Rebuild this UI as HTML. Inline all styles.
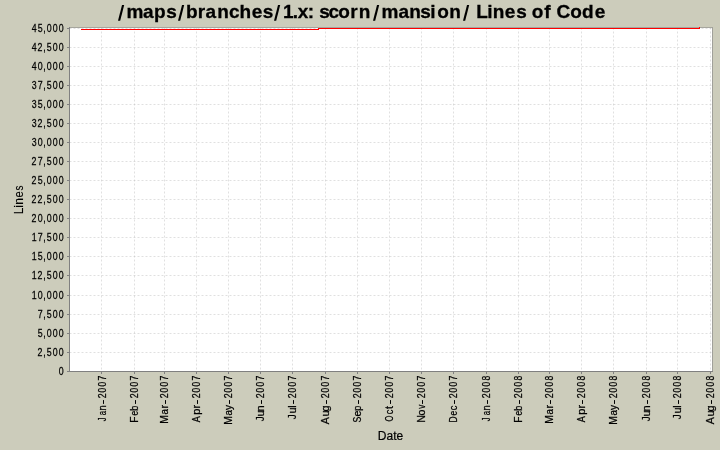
<!DOCTYPE html>
<html><head><meta charset="utf-8"><title>Lines of Code</title>
<style>
html,body{margin:0;padding:0;background:#ccccbb;}
body{width:720px;height:450px;overflow:hidden;}
svg{display:block;font-family:"Liberation Sans",sans-serif;will-change:transform;}
</style></head><body>
<svg width="720" height="450" viewBox="0 0 720 450">
<rect x="0" y="0" width="720" height="450" fill="#ccccbb"/>
<rect x="70" y="28" width="642" height="343" fill="#ffffff"/>
<g stroke="#c0c0c0" stroke-width="0.5" stroke-dasharray="2 2" fill="none"><line x1="69.5" y1="28.5" x2="712.5" y2="28.5"/><line x1="69.5" y1="47.5" x2="712.5" y2="47.5"/><line x1="69.5" y1="66.5" x2="712.5" y2="66.5"/><line x1="69.5" y1="85.5" x2="712.5" y2="85.5"/><line x1="69.5" y1="104.5" x2="712.5" y2="104.5"/><line x1="69.5" y1="123.5" x2="712.5" y2="123.5"/><line x1="69.5" y1="142.5" x2="712.5" y2="142.5"/><line x1="69.5" y1="161.5" x2="712.5" y2="161.5"/><line x1="69.5" y1="180.5" x2="712.5" y2="180.5"/><line x1="69.5" y1="199.5" x2="712.5" y2="199.5"/><line x1="69.5" y1="218.5" x2="712.5" y2="218.5"/><line x1="69.5" y1="237.5" x2="712.5" y2="237.5"/><line x1="69.5" y1="256.5" x2="712.5" y2="256.5"/><line x1="69.5" y1="275.5" x2="712.5" y2="275.5"/><line x1="69.5" y1="295.5" x2="712.5" y2="295.5"/><line x1="69.5" y1="314.5" x2="712.5" y2="314.5"/><line x1="69.5" y1="333.5" x2="712.5" y2="333.5"/><line x1="69.5" y1="352.5" x2="712.5" y2="352.5"/><line x1="69.5" y1="371.5" x2="712.5" y2="371.5"/><line x1="101.5" y1="27.5" x2="101.5" y2="371.5"/><line x1="134.5" y1="27.5" x2="134.5" y2="371.5"/><line x1="164.5" y1="27.5" x2="164.5" y2="371.5"/><line x1="196.5" y1="27.5" x2="196.5" y2="371.5"/><line x1="228.5" y1="27.5" x2="228.5" y2="371.5"/><line x1="260.5" y1="27.5" x2="260.5" y2="371.5"/><line x1="292.5" y1="27.5" x2="292.5" y2="371.5"/><line x1="325.5" y1="27.5" x2="325.5" y2="371.5"/><line x1="357.5" y1="27.5" x2="357.5" y2="371.5"/><line x1="389.5" y1="27.5" x2="389.5" y2="371.5"/><line x1="421.5" y1="27.5" x2="421.5" y2="371.5"/><line x1="453.5" y1="27.5" x2="453.5" y2="371.5"/><line x1="486.5" y1="27.5" x2="486.5" y2="371.5"/><line x1="518.5" y1="27.5" x2="518.5" y2="371.5"/><line x1="549.5" y1="27.5" x2="549.5" y2="371.5"/><line x1="581.5" y1="27.5" x2="581.5" y2="371.5"/><line x1="613.5" y1="27.5" x2="613.5" y2="371.5"/><line x1="646.5" y1="27.5" x2="646.5" y2="371.5"/><line x1="677.5" y1="27.5" x2="677.5" y2="371.5"/><line x1="710.5" y1="27.5" x2="710.5" y2="371.5"/></g>
<rect x="69" y="27" width="644" height="1" fill="#a6a69e"/>
<rect x="712" y="27" width="1" height="345" fill="#a0a09a"/>
<g fill="#ff0000"><rect x="81" y="29" width="238" height="1"/><rect x="318" y="28" width="382" height="1"/><rect x="699" y="27" width="1" height="1"/></g>
<g fill="#808080"><rect x="69" y="27" width="1" height="345"/><rect x="67" y="371" width="646" height="1"/><rect x="67" y="28" width="2" height="1"/><rect x="67" y="47" width="2" height="1"/><rect x="67" y="66" width="2" height="1"/><rect x="67" y="85" width="2" height="1"/><rect x="67" y="104" width="2" height="1"/><rect x="67" y="123" width="2" height="1"/><rect x="67" y="142" width="2" height="1"/><rect x="67" y="161" width="2" height="1"/><rect x="67" y="180" width="2" height="1"/><rect x="67" y="199" width="2" height="1"/><rect x="67" y="218" width="2" height="1"/><rect x="67" y="237" width="2" height="1"/><rect x="67" y="256" width="2" height="1"/><rect x="67" y="275" width="2" height="1"/><rect x="67" y="295" width="2" height="1"/><rect x="67" y="314" width="2" height="1"/><rect x="67" y="333" width="2" height="1"/><rect x="67" y="352" width="2" height="1"/><rect x="67" y="371" width="2" height="1"/><rect x="101" y="372" width="1" height="2"/><rect x="134" y="372" width="1" height="2"/><rect x="164" y="372" width="1" height="2"/><rect x="196" y="372" width="1" height="2"/><rect x="228" y="372" width="1" height="2"/><rect x="260" y="372" width="1" height="2"/><rect x="292" y="372" width="1" height="2"/><rect x="325" y="372" width="1" height="2"/><rect x="357" y="372" width="1" height="2"/><rect x="389" y="372" width="1" height="2"/><rect x="421" y="372" width="1" height="2"/><rect x="453" y="372" width="1" height="2"/><rect x="486" y="372" width="1" height="2"/><rect x="518" y="372" width="1" height="2"/><rect x="549" y="372" width="1" height="2"/><rect x="581" y="372" width="1" height="2"/><rect x="613" y="372" width="1" height="2"/><rect x="646" y="372" width="1" height="2"/><rect x="677" y="372" width="1" height="2"/><rect x="710" y="372" width="1" height="2"/></g>
<g font-size="11" fill="#000" stroke="#000" stroke-width="0.25" transform="scale(0.8,1)"><text x="39.66 47.11 54.08 58.41 65.91 73.41" y="32.0">45,000</text><text x="39.66 47.00 54.08 58.36 65.91 73.41" y="51.0">42,500</text><text x="39.66 47.16 54.08 58.41 65.91 73.41" y="70.0">40,000</text><text x="39.68 47.14 54.08 58.36 65.91 73.41" y="89.0">37,500</text><text x="39.68 47.11 54.08 58.41 65.91 73.41" y="108.0">35,000</text><text x="39.68 47.00 54.08 58.36 65.91 73.41" y="127.0">32,500</text><text x="39.68 47.16 54.08 58.41 65.91 73.41" y="146.0">30,000</text><text x="39.50 47.14 54.08 58.36 65.91 73.41" y="165.0">27,500</text><text x="39.50 47.11 54.08 58.41 65.91 73.41" y="184.0">25,000</text><text x="39.50 47.00 54.08 58.36 65.91 73.41" y="203.0">22,500</text><text x="39.50 47.16 54.08 58.41 65.91 73.41" y="222.0">20,000</text><text x="39.63 47.14 54.08 58.36 65.91 73.41" y="241.0">17,500</text><text x="39.63 47.11 54.08 58.41 65.91 73.41" y="260.0">15,000</text><text x="39.63 47.00 54.08 58.36 65.91 73.41" y="279.0">12,500</text><text x="39.63 47.16 54.08 58.41 65.91 73.41" y="299.0">10,000</text><text x="47.14 54.08 58.36 65.91 73.41" y="318.0">7,500</text><text x="47.11 54.08 58.41 65.91 73.41" y="337.0">5,000</text><text x="47.00 54.08 58.36 65.91 73.41" y="356.0">2,500</text><text x="73.41" y="375.0">0</text></g>
<g font-size="11" fill="#000" stroke="#000" stroke-width="0.25"><text transform="translate(106,0) rotate(-90) scale(0.700,1)" x="-601.71">J</text><text transform="translate(106,0) rotate(-90) scale(0.708,1)" x="-586.70">a</text><text transform="translate(106,0) rotate(-90) scale(0.856,1)" x="-479.70">n</text><text transform="translate(106,0) rotate(-90) scale(0.798,1)" x="-499.17">2</text><text transform="translate(106,0) rotate(-90) scale(0.761,1)" x="-515.74">0</text><text transform="translate(106,0) rotate(-90) scale(0.761,1)" x="-507.86">0</text><text transform="translate(106,0) rotate(-90) scale(0.800,1)" x="-475.61">7</text><text transform="translate(138,0) rotate(-90) scale(0.930,1)" x="-454.68">F</text><text transform="translate(138,0) rotate(-90) scale(0.775,1)" x="-535.99">e</text><text transform="translate(138,0) rotate(-90) scale(0.809,1)" x="-507.75">b</text><text transform="translate(138,0) rotate(-90) scale(0.798,1)" x="-499.17">2</text><text transform="translate(138,0) rotate(-90) scale(0.761,1)" x="-515.74">0</text><text transform="translate(138,0) rotate(-90) scale(0.761,1)" x="-507.86">0</text><text transform="translate(138,0) rotate(-90) scale(0.800,1)" x="-475.61">7</text><text transform="translate(168,0) rotate(-90) scale(0.951,1)" x="-445.56">M</text><text transform="translate(168,0) rotate(-90) scale(0.885,1)" x="-468.32">a</text><text transform="translate(168,0) rotate(-90) scale(1.000,1)" x="-408.61">r</text><text transform="translate(168,0) rotate(-90) scale(0.798,1)" x="-499.17">2</text><text transform="translate(168,0) rotate(-90) scale(0.761,1)" x="-515.74">0</text><text transform="translate(168,0) rotate(-90) scale(0.761,1)" x="-507.86">0</text><text transform="translate(168,0) rotate(-90) scale(0.800,1)" x="-475.61">7</text><text transform="translate(200,0) rotate(-90) scale(0.823,1)" x="-513.03">A</text><text transform="translate(200,0) rotate(-90) scale(1.000,1)" x="-414.68">p</text><text transform="translate(200,0) rotate(-90) scale(1.000,1)" x="-408.61">r</text><text transform="translate(200,0) rotate(-90) scale(0.798,1)" x="-499.17">2</text><text transform="translate(200,0) rotate(-90) scale(0.761,1)" x="-515.74">0</text><text transform="translate(200,0) rotate(-90) scale(0.761,1)" x="-507.86">0</text><text transform="translate(200,0) rotate(-90) scale(0.800,1)" x="-475.61">7</text><text transform="translate(232,0) rotate(-90) scale(0.951,1)" x="-446.61">M</text><text transform="translate(232,0) rotate(-90) scale(0.885,1)" x="-469.45">a</text><text transform="translate(232,0) rotate(-90) scale(0.917,1)" x="-447.06">y</text><text transform="translate(232,0) rotate(-90) scale(0.798,1)" x="-499.17">2</text><text transform="translate(232,0) rotate(-90) scale(0.761,1)" x="-515.74">0</text><text transform="translate(232,0) rotate(-90) scale(0.761,1)" x="-507.86">0</text><text transform="translate(232,0) rotate(-90) scale(0.800,1)" x="-475.61">7</text><text transform="translate(264,0) rotate(-90) scale(0.887,1)" x="-475.03">J</text><text transform="translate(264,0) rotate(-90) scale(1.000,1)" x="-416.55">u</text><text transform="translate(264,0) rotate(-90) scale(1.000,1)" x="-411.57">n</text><text transform="translate(264,0) rotate(-90) scale(0.798,1)" x="-499.17">2</text><text transform="translate(264,0) rotate(-90) scale(0.761,1)" x="-515.74">0</text><text transform="translate(264,0) rotate(-90) scale(0.761,1)" x="-507.86">0</text><text transform="translate(264,0) rotate(-90) scale(0.800,1)" x="-475.61">7</text><text transform="translate(296,0) rotate(-90) scale(0.887,1)" x="-472.77">J</text><text transform="translate(296,0) rotate(-90) scale(1.000,1)" x="-413.55">u</text><text transform="translate(296,0) rotate(-90) scale(1.000,1)" x="-407.72">l</text><text transform="translate(296,0) rotate(-90) scale(0.798,1)" x="-499.17">2</text><text transform="translate(296,0) rotate(-90) scale(0.761,1)" x="-515.74">0</text><text transform="translate(296,0) rotate(-90) scale(0.761,1)" x="-507.86">0</text><text transform="translate(296,0) rotate(-90) scale(0.800,1)" x="-475.61">7</text><text transform="translate(329,0) rotate(-90) scale(0.960,1)" x="-441.83">A</text><text transform="translate(329,0) rotate(-90) scale(1.000,1)" x="-416.55">u</text><text transform="translate(329,0) rotate(-90) scale(1.000,1)" x="-411.44">g</text><text transform="translate(329,0) rotate(-90) scale(0.798,1)" x="-499.17">2</text><text transform="translate(329,0) rotate(-90) scale(0.761,1)" x="-515.74">0</text><text transform="translate(329,0) rotate(-90) scale(0.761,1)" x="-507.86">0</text><text transform="translate(329,0) rotate(-90) scale(0.800,1)" x="-475.61">7</text><text transform="translate(361,0) rotate(-90) scale(0.790,1)" x="-534.96">S</text><text transform="translate(361,0) rotate(-90) scale(0.969,1)" x="-429.91">e</text><text transform="translate(361,0) rotate(-90) scale(0.809,1)" x="-507.75">p</text><text transform="translate(361,0) rotate(-90) scale(0.798,1)" x="-499.17">2</text><text transform="translate(361,0) rotate(-90) scale(0.761,1)" x="-515.74">0</text><text transform="translate(361,0) rotate(-90) scale(0.761,1)" x="-507.86">0</text><text transform="translate(361,0) rotate(-90) scale(0.800,1)" x="-475.61">7</text><text transform="translate(393,0) rotate(-90) scale(0.700,1)" x="-602.13">O</text><text transform="translate(393,0) rotate(-90) scale(0.843,1)" x="-491.33">c</text><text transform="translate(393,0) rotate(-90) scale(1.000,1)" x="-409.07">t</text><text transform="translate(393,0) rotate(-90) scale(0.798,1)" x="-499.17">2</text><text transform="translate(393,0) rotate(-90) scale(0.761,1)" x="-515.74">0</text><text transform="translate(393,0) rotate(-90) scale(0.761,1)" x="-507.86">0</text><text transform="translate(393,0) rotate(-90) scale(0.800,1)" x="-475.61">7</text><text transform="translate(425,0) rotate(-90) scale(0.976,1)" x="-433.07">N</text><text transform="translate(425,0) rotate(-90) scale(0.963,1)" x="-431.55">o</text><text transform="translate(425,0) rotate(-90) scale(0.737,1)" x="-554.72">v</text><text transform="translate(425,0) rotate(-90) scale(0.798,1)" x="-499.17">2</text><text transform="translate(425,0) rotate(-90) scale(0.761,1)" x="-515.74">0</text><text transform="translate(425,0) rotate(-90) scale(0.761,1)" x="-507.86">0</text><text transform="translate(425,0) rotate(-90) scale(0.800,1)" x="-475.61">7</text><text transform="translate(457,0) rotate(-90) scale(0.767,1)" x="-550.78">D</text><text transform="translate(457,0) rotate(-90) scale(0.775,1)" x="-535.99">e</text><text transform="translate(457,0) rotate(-90) scale(0.843,1)" x="-486.59">c</text><text transform="translate(457,0) rotate(-90) scale(0.798,1)" x="-499.17">2</text><text transform="translate(457,0) rotate(-90) scale(0.761,1)" x="-515.74">0</text><text transform="translate(457,0) rotate(-90) scale(0.761,1)" x="-507.86">0</text><text transform="translate(457,0) rotate(-90) scale(0.800,1)" x="-475.61">7</text><text transform="translate(490,0) rotate(-90) scale(0.700,1)" x="-601.71">J</text><text transform="translate(490,0) rotate(-90) scale(0.708,1)" x="-586.70">a</text><text transform="translate(490,0) rotate(-90) scale(0.856,1)" x="-479.70">n</text><text transform="translate(490,0) rotate(-90) scale(0.798,1)" x="-499.17">2</text><text transform="translate(490,0) rotate(-90) scale(0.761,1)" x="-515.74">0</text><text transform="translate(490,0) rotate(-90) scale(0.761,1)" x="-507.86">0</text><text transform="translate(490,0) rotate(-90) scale(0.775,1)" x="-490.83">8</text><text transform="translate(522,0) rotate(-90) scale(0.930,1)" x="-454.68">F</text><text transform="translate(522,0) rotate(-90) scale(0.775,1)" x="-535.99">e</text><text transform="translate(522,0) rotate(-90) scale(0.809,1)" x="-507.75">b</text><text transform="translate(522,0) rotate(-90) scale(0.798,1)" x="-499.17">2</text><text transform="translate(522,0) rotate(-90) scale(0.761,1)" x="-515.74">0</text><text transform="translate(522,0) rotate(-90) scale(0.761,1)" x="-507.86">0</text><text transform="translate(522,0) rotate(-90) scale(0.775,1)" x="-490.83">8</text><text transform="translate(553,0) rotate(-90) scale(0.951,1)" x="-445.56">M</text><text transform="translate(553,0) rotate(-90) scale(0.885,1)" x="-468.32">a</text><text transform="translate(553,0) rotate(-90) scale(1.000,1)" x="-408.61">r</text><text transform="translate(553,0) rotate(-90) scale(0.798,1)" x="-499.17">2</text><text transform="translate(553,0) rotate(-90) scale(0.761,1)" x="-515.74">0</text><text transform="translate(553,0) rotate(-90) scale(0.761,1)" x="-507.86">0</text><text transform="translate(553,0) rotate(-90) scale(0.775,1)" x="-490.83">8</text><text transform="translate(585,0) rotate(-90) scale(0.823,1)" x="-513.03">A</text><text transform="translate(585,0) rotate(-90) scale(1.000,1)" x="-414.68">p</text><text transform="translate(585,0) rotate(-90) scale(1.000,1)" x="-408.61">r</text><text transform="translate(585,0) rotate(-90) scale(0.798,1)" x="-499.17">2</text><text transform="translate(585,0) rotate(-90) scale(0.761,1)" x="-515.74">0</text><text transform="translate(585,0) rotate(-90) scale(0.761,1)" x="-507.86">0</text><text transform="translate(585,0) rotate(-90) scale(0.775,1)" x="-490.83">8</text><text transform="translate(617,0) rotate(-90) scale(0.951,1)" x="-446.61">M</text><text transform="translate(617,0) rotate(-90) scale(0.885,1)" x="-469.45">a</text><text transform="translate(617,0) rotate(-90) scale(0.917,1)" x="-447.06">y</text><text transform="translate(617,0) rotate(-90) scale(0.798,1)" x="-499.17">2</text><text transform="translate(617,0) rotate(-90) scale(0.761,1)" x="-515.74">0</text><text transform="translate(617,0) rotate(-90) scale(0.761,1)" x="-507.86">0</text><text transform="translate(617,0) rotate(-90) scale(0.775,1)" x="-490.83">8</text><text transform="translate(650,0) rotate(-90) scale(0.887,1)" x="-475.03">J</text><text transform="translate(650,0) rotate(-90) scale(1.000,1)" x="-416.55">u</text><text transform="translate(650,0) rotate(-90) scale(1.000,1)" x="-411.57">n</text><text transform="translate(650,0) rotate(-90) scale(0.798,1)" x="-499.17">2</text><text transform="translate(650,0) rotate(-90) scale(0.761,1)" x="-515.74">0</text><text transform="translate(650,0) rotate(-90) scale(0.761,1)" x="-507.86">0</text><text transform="translate(650,0) rotate(-90) scale(0.775,1)" x="-490.83">8</text><text transform="translate(681,0) rotate(-90) scale(0.887,1)" x="-472.77">J</text><text transform="translate(681,0) rotate(-90) scale(1.000,1)" x="-413.55">u</text><text transform="translate(681,0) rotate(-90) scale(1.000,1)" x="-407.72">l</text><text transform="translate(681,0) rotate(-90) scale(0.798,1)" x="-499.17">2</text><text transform="translate(681,0) rotate(-90) scale(0.761,1)" x="-515.74">0</text><text transform="translate(681,0) rotate(-90) scale(0.761,1)" x="-507.86">0</text><text transform="translate(681,0) rotate(-90) scale(0.775,1)" x="-490.83">8</text><text transform="translate(714,0) rotate(-90) scale(0.960,1)" x="-441.83">A</text><text transform="translate(714,0) rotate(-90) scale(1.000,1)" x="-416.55">u</text><text transform="translate(714,0) rotate(-90) scale(1.000,1)" x="-411.44">g</text><text transform="translate(714,0) rotate(-90) scale(0.798,1)" x="-499.17">2</text><text transform="translate(714,0) rotate(-90) scale(0.761,1)" x="-515.74">0</text><text transform="translate(714,0) rotate(-90) scale(0.761,1)" x="-507.86">0</text><text transform="translate(714,0) rotate(-90) scale(0.775,1)" x="-490.83">8</text></g>
<g fill="#000"><rect x="103" y="400.1" width="1" height="3.8"/><rect x="135" y="400.1" width="1" height="3.8"/><rect x="165" y="400.1" width="1" height="3.8"/><rect x="197" y="400.1" width="1" height="3.8"/><rect x="229" y="400.1" width="1" height="3.8"/><rect x="261" y="400.1" width="1" height="3.8"/><rect x="293" y="400.1" width="1" height="3.8"/><rect x="326" y="400.1" width="1" height="3.8"/><rect x="358" y="400.1" width="1" height="3.8"/><rect x="390" y="400.1" width="1" height="3.8"/><rect x="422" y="400.1" width="1" height="3.8"/><rect x="454" y="400.1" width="1" height="3.8"/><rect x="487" y="400.1" width="1" height="3.8"/><rect x="519" y="400.1" width="1" height="3.8"/><rect x="550" y="400.1" width="1" height="3.8"/><rect x="582" y="400.1" width="1" height="3.8"/><rect x="614" y="400.1" width="1" height="3.8"/><rect x="647" y="400.1" width="1" height="3.8"/><rect x="678" y="400.1" width="1" height="3.8"/><rect x="711" y="400.1" width="1" height="3.8"/></g>
<text transform="translate(23.0,0) rotate(-90) scale(1.000,1)" x="-214.13" font-size="12" stroke="#000" stroke-width="0.15">L</text>
<text transform="translate(23.0,0) rotate(-90) scale(1.000,1)" x="-207.83" font-size="12" stroke="#000" stroke-width="0.15">i</text>
<text transform="translate(23.0,0) rotate(-90) scale(1.000,1)" x="-204.85" font-size="12" stroke="#000" stroke-width="0.15">n</text>
<text transform="translate(23.0,0) rotate(-90) scale(0.941,1)" x="-209.97" font-size="12" stroke="#000" stroke-width="0.15">e</text>
<text transform="translate(23.0,0) rotate(-90) scale(0.822,1)" x="-231.72" font-size="12" stroke="#000" stroke-width="0.15">s</text>
<text x="390.5" y="440.0" text-anchor="middle" font-size="12" stroke="#000" stroke-width="0.2">Date</text>
<text x="118.36 126.52 142.88 153.96 166.27 178.36 185.96 197.82 205.38 217.16 229.12 239.62 251.67 262.77 274.36 282.88 292.87 297.72 307.84 314.16 319.27 328.62 338.20 350.32 358.66 373.86 381.52 398.38 409.16 420.27 430.37 437.20 449.16 463.36 468.64 476.35 487.37 492.66 504.67 516.27 526.84 531.70 544.16 550.48 556.51 570.20 581.93 594.67" y="18.0" font-size="19" font-weight="bold" stroke="#000" stroke-width="0.3" style="white-space:pre"> maps branches 1.x: scorn mansion  Lines of Code</text>
<g fill="#000"><polygon points="122,5 124.2,5 120.2,20.8 118,20.8"/><polygon points="182,5 184.2,5 180.2,20.8 178,20.8"/><polygon points="278,5 280.2,5 276.2,20.8 274,20.8"/><polygon points="377,5 379.2,5 375.2,20.8 373,20.8"/><polygon points="467,5 469.2,5 465.2,20.8 463,20.8"/></g>
</svg>
</body></html>
